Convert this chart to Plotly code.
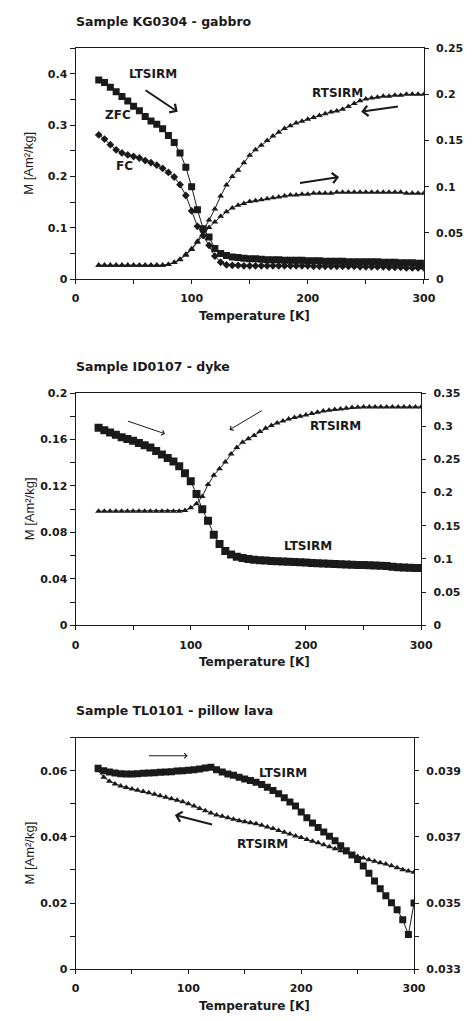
import plotly.graph_objects as go

# ---------------- data ----------------
temperature = [20, 25, 30, 35, 40, 45, 50, 55, 60, 65, 70, 75, 80, 85, 90, 95, 100, 105, 110, 115,
               120, 125, 130, 135, 140, 145, 150, 155, 160, 165, 170, 175, 180, 185, 190, 195, 200,
               205, 210, 215, 220, 225, 230, 235, 240, 245, 250, 255, 260, 265, 270, 275, 280, 285,
               290, 295, 300]

# Panel 1 - KG0304 gabbro
kg_zfc = [0.388, 0.383, 0.374, 0.365, 0.356, 0.347, 0.337, 0.328, 0.317, 0.308,
          0.302, 0.293, 0.280, 0.266, 0.246, 0.218, 0.180, 0.135, 0.098, 0.082,
          0.060, 0.050, 0.046, 0.043, 0.042, 0.041, 0.040, 0.040, 0.039, 0.038,
          0.038, 0.038, 0.037, 0.037, 0.037, 0.037, 0.036, 0.036, 0.036, 0.035,
          0.035, 0.035, 0.035, 0.034, 0.034, 0.034, 0.034, 0.034, 0.034, 0.033,
          0.033, 0.033, 0.032, 0.032, 0.032, 0.031, 0.031]
kg_fc = [0.281, 0.273, 0.262, 0.252, 0.246, 0.242, 0.239, 0.236, 0.231, 0.227,
         0.222, 0.216, 0.208, 0.199, 0.184, 0.163, 0.133, 0.103, 0.085, 0.066,
         0.045, 0.033, 0.028, 0.027, 0.027, 0.026, 0.026, 0.026, 0.026, 0.026,
         0.026, 0.026, 0.026, 0.026, 0.026, 0.026, 0.026, 0.025, 0.025, 0.025,
         0.025, 0.025, 0.025, 0.025, 0.025, 0.024, 0.024, 0.024, 0.024, 0.024,
         0.023, 0.023, 0.023, 0.022, 0.022, 0.022, 0.022]
kg_rtsirm_cool = [0.015, 0.015, 0.015, 0.015, 0.015, 0.015, 0.015, 0.015, 0.015, 0.015, 0.015, 0.015,
                  0.016, 0.018, 0.0215, 0.027, 0.033, 0.041, 0.052, 0.064, 0.076, 0.090,
                  0.102, 0.111, 0.118, 0.126, 0.134, 0.140, 0.145, 0.150, 0.155, 0.159,
                  0.163, 0.166, 0.169, 0.171, 0.173, 0.175, 0.177, 0.179, 0.181, 0.182,
                  0.184, 0.187, 0.190, 0.193, 0.195, 0.196, 0.197, 0.198, 0.198, 0.199,
                  0.199, 0.200, 0.200, 0.200, 0.200]
kg_rtsirm_warm = [0.015, 0.015, 0.015, 0.015, 0.015, 0.015, 0.015, 0.015, 0.015, 0.015, 0.015, 0.015,
                  0.016, 0.018, 0.021, 0.026, 0.032, 0.040, 0.048, 0.056, 0.062, 0.068,
                  0.073, 0.077, 0.080, 0.082, 0.084, 0.085, 0.086, 0.087, 0.088, 0.089,
                  0.090, 0.091, 0.091, 0.092, 0.092, 0.093, 0.093, 0.093, 0.093, 0.094,
                  0.094, 0.094, 0.094, 0.094, 0.094, 0.094, 0.094, 0.094, 0.094, 0.094,
                  0.094, 0.093, 0.093, 0.093, 0.093]

# Panel 2 - ID0107 dyke
id_ltsirm = [0.170, 0.168, 0.166, 0.164, 0.162, 0.1605, 0.159, 0.157, 0.155, 0.153,
             0.150, 0.147, 0.144, 0.141, 0.137, 0.131, 0.124, 0.113, 0.100, 0.090,
             0.078, 0.070, 0.064, 0.061, 0.059, 0.058, 0.057, 0.0565, 0.056, 0.0557,
             0.0554, 0.0551, 0.055, 0.0548, 0.0545, 0.0542, 0.054, 0.0537, 0.0535, 0.0533,
             0.053, 0.0528, 0.0526, 0.0524, 0.0522, 0.052, 0.052, 0.0518, 0.0515, 0.0512,
             0.051, 0.0505, 0.050, 0.0498, 0.0496, 0.0494, 0.0493]
id_rtsirm = [0.172, 0.172, 0.172, 0.172, 0.172, 0.172, 0.172, 0.172, 0.172, 0.172,
             0.172, 0.172, 0.172, 0.172, 0.172,
             0.173, 0.177, 0.183, 0.194, 0.212, 0.226, 0.236, 0.246, 0.258, 0.268,
             0.276, 0.281, 0.286, 0.292, 0.297, 0.301, 0.305, 0.308, 0.311, 0.313,
             0.315, 0.317, 0.319, 0.321, 0.323, 0.324, 0.325, 0.326, 0.327, 0.328,
             0.3285, 0.329, 0.329, 0.329, 0.329, 0.329, 0.329, 0.329, 0.329, 0.329,
             0.329, 0.329]

# Panel 3 - TL0101 pillow lava
tl_ltsirm = [0.0607, 0.0600, 0.0596, 0.0593, 0.0591, 0.0590, 0.0590, 0.0591, 0.0592, 0.0593,
             0.0594, 0.0595, 0.0596, 0.0597, 0.0599, 0.0600, 0.0601, 0.0603, 0.0605, 0.0608,
             0.0610, 0.0603, 0.0596, 0.0590, 0.0586, 0.0580, 0.0575, 0.0570, 0.0565, 0.0558,
             0.0550, 0.0540, 0.0530, 0.0518, 0.0505, 0.0493, 0.0475, 0.0458, 0.0442, 0.0428,
             0.0415, 0.0402, 0.0388, 0.0373, 0.0358, 0.0345, 0.0332, 0.0312, 0.0290, 0.0267,
             0.0243, 0.0222, 0.0201, 0.0180, 0.0150, 0.0105, 0.0200]
tl_rtsirm = [0.03900, 0.03880, 0.03868, 0.03860, 0.03854, 0.03849, 0.03845, 0.03841, 0.03837, 0.03833,
             0.03829, 0.03824, 0.03820, 0.03815, 0.03811, 0.03806, 0.03800, 0.03793, 0.03786, 0.03779,
             0.03772, 0.03766, 0.03762, 0.03758, 0.03753, 0.03749, 0.03746, 0.03743, 0.03740, 0.03735,
             0.03730, 0.03725, 0.03719, 0.03714, 0.03709, 0.03703, 0.03698, 0.03692, 0.03687, 0.03682,
             0.03676, 0.03670, 0.03664, 0.03658, 0.03652, 0.03646, 0.03641, 0.03636, 0.03631, 0.03626,
             0.03622, 0.03618, 0.03613, 0.03607, 0.03601, 0.03597, 0.03593]

panel_titles = ["Sample KG0304 - gabbro", "Sample ID0107 - dyke", "Sample TL0101 - pillow lava"]
x_title = "Temperature [K]"
y_title = "M [Am²/kg]"

# ---------------- styling ----------------
W, H = 476, 1021
INK = "#1a1a1a"
BOLD = dict(family="DejaVu Sans", size=11, color=INK, weight="bold")
LBL = dict(family="DejaVu Sans", size=12, color=INK, weight="bold")


def px(x):
    return x / W


def py(y):
    return 1 - y / H


panels = [
    dict(x0=74, x1=434.5, top=42.7, bot=276.7, yl=[0, 0.45], yr=[0, 0.25], ld=0.1, lm=0.05,
         rd=0.05, rm=None, r0=0),
    dict(x0=74, x1=431.7, top=392, bot=627.3, yl=[0, 0.2], yr=[0, 0.35], ld=0.04, lm=0.02,
         rd=0.05, rm=None, r0=0),
    dict(x0=74, x1=424.3, top=741, bot=975.7, yl=[0, 0.07], yr=[0.033, 0.040], ld=0.02, lm=0.01,
         rd=0.002, rm=0.001, r0=0.033),
]

fig = go.Figure()
layout = dict(width=W, height=H, margin=dict(l=0, r=0, t=0, b=0), autosize=False,
              paper_bgcolor="white", plot_bgcolor="white", showlegend=False)

line_ax = dict(showline=True, linecolor=INK, linewidth=1, showgrid=False, zeroline=False,
               tickcolor=INK, tickwidth=1, tickfont=BOLD)

for i, p in enumerate(panels):
    k = i + 1
    xa = "xaxis" if k == 1 else f"xaxis{k}"
    xname = "x" if k == 1 else f"x{k}"
    yl_i, yr_i, yri_i = 3 * i + 1, 3 * i + 2, 3 * i + 3
    yl_name = "y" if yl_i == 1 else f"y{yl_i}"
    dom_x = [px(p["x0"]), px(p["x1"])]
    dom_y = [py(p["bot"]), py(p["top"])]
    layout[xa] = dict(domain=dom_x, anchor=yl_name, range=[0, 300], dtick=100, tick0=0,
                      ticks="outside", ticklen=4, mirror=True, ticklabelstandoff=5,
                      minor=dict(dtick=50, ticks="outside", ticklen=4, tickcolor=INK),
                      **line_ax)
    layout["yaxis" if yl_i == 1 else f"yaxis{yl_i}"] = dict(
        domain=dom_y, anchor=xname, range=p["yl"], dtick=p["ld"], tick0=0,
        ticks="outside", ticklen=5,
        minor=dict(dtick=p["lm"], ticks="outside", ticklen=5, tickcolor=INK), **line_ax)
    right = dict(overlaying=yl_name, side="right", anchor=xname, range=p["yr"],
                 dtick=p["rd"], tick0=p["r0"], ticks="outside", ticklen=4,
                 ticklabelstandoff=5, **line_ax)
    if p["rm"]:
        right["minor"] = dict(dtick=p["rm"], tick0=p["r0"], ticks="outside", ticklen=4,
                              tickcolor=INK)
    layout[f"yaxis{yr_i}"] = right
    inner = dict(overlaying=yl_name, side="right", anchor=xname, range=p["yr"],
                 dtick=p["rm"] if p["rm"] else p["rd"], tick0=p["r0"], ticks="inside",
                 ticklen=4, showticklabels=False, showline=False, showgrid=False,
                 zeroline=False, tickcolor=INK, tickwidth=1)
    layout[f"yaxis{yri_i}"] = inner


def add(x, y, xa, ya, symbol, size, lw=1):
    fig.add_trace(go.Scatter(x=x, y=y, xaxis=xa, yaxis=ya, mode="lines+markers",
                             line=dict(color=INK, width=lw),
                             marker=dict(symbol=symbol, size=size, color=INK,
                                         line=dict(width=0)),
                             hoverinfo="skip"))


add(temperature, kg_zfc, "x", "y", "square", 7)
add(temperature, kg_fc, "x", "y", "diamond", 6)
add(temperature, kg_rtsirm_cool, "x", "y2", "triangle-up", 6)
add(temperature, kg_rtsirm_warm, "x", "y2", "triangle-up", 6)
add(temperature, id_ltsirm, "x2", "y4", "square", 8)
add(temperature, id_rtsirm, "x2", "y5", "triangle-up", 6)
add(temperature, tl_ltsirm, "x3", "y7", "square", 7)
add(temperature, tl_rtsirm, "x3", "y8", "triangle-up", 6)

ann = []
for p, t in zip(panels, panel_titles):
    ann.append(dict(text=t, x=px(72.7), y=py(p["top"] - 27), xref="paper", yref="paper",
                    xanchor="left", yanchor="middle", showarrow=False,
                    font=dict(family="DejaVu Sans", size=12.5, color=INK, weight="bold")))
    ann.append(dict(text=x_title, x=px(259), y=py(p["bot"] + 37), xref="paper", yref="paper",
                    xanchor="center", yanchor="middle", showarrow=False, font=LBL))
    ann.append(dict(text=y_title, x=px(26), y=py((p["top"] + p["bot"]) / 2), xref="paper",
                    yref="paper", xanchor="center", yanchor="middle", showarrow=False,
                    textangle=-90,
                    font=dict(family="Liberation Sans", size=13, color=INK)))


def label(text, x, y, xr, yr):
    ann.append(dict(text=text, x=x, y=y, xref=xr, yref=yr, showarrow=False,
                    xanchor="center", yanchor="middle", font=LBL))


def arrow(x, y, ax, ay, xr, yr, w):
    ann.append(dict(text="", x=x, y=y, ax=ax, ay=ay, xref=xr, yref=yr, axref=xr, ayref=yr,
                    showarrow=True, arrowhead=4, arrowsize=1.0, arrowwidth=w,
                    arrowcolor=INK, standoff=0))


label("LTSIRM", 67, 0.399, "x", "y")
label("ZFC", 37, 0.320, "x", "y")
label("FC", 42, 0.220, "x", "y")
label("RTSIRM", 226, 0.363, "x", "y")
arrow(88, 0.326, 59, 0.370, "x", "y", 2)
arrow(246, 0.326, 279, 0.337, "x", "y", 2)
arrow(227, 0.199, 192, 0.187, "x", "y", 2)

label("RTSIRM", 226, 0.1714, "x2", "y4")
label("LTSIRM", 202, 0.068, "x2", "y4")
arrow(77.7, 0.1649, 44.2, 0.1762, "x2", "y4", 1)
arrow(133.6, 0.1683, 163, 0.1856, "x2", "y4", 1)

label("LTSIRM", 184, 0.0594, "x3", "y7")
label("RTSIRM", 166, 0.0379, "x3", "y7")
arrow(99.4, 0.0645, 63.7, 0.0645, "x3", "y7", 1)
arrow(88, 0.0466, 122.3, 0.0436, "x3", "y7", 2)

layout["annotations"] = ann
fig.update_layout(**layout)
fig.write_html("out.html")
